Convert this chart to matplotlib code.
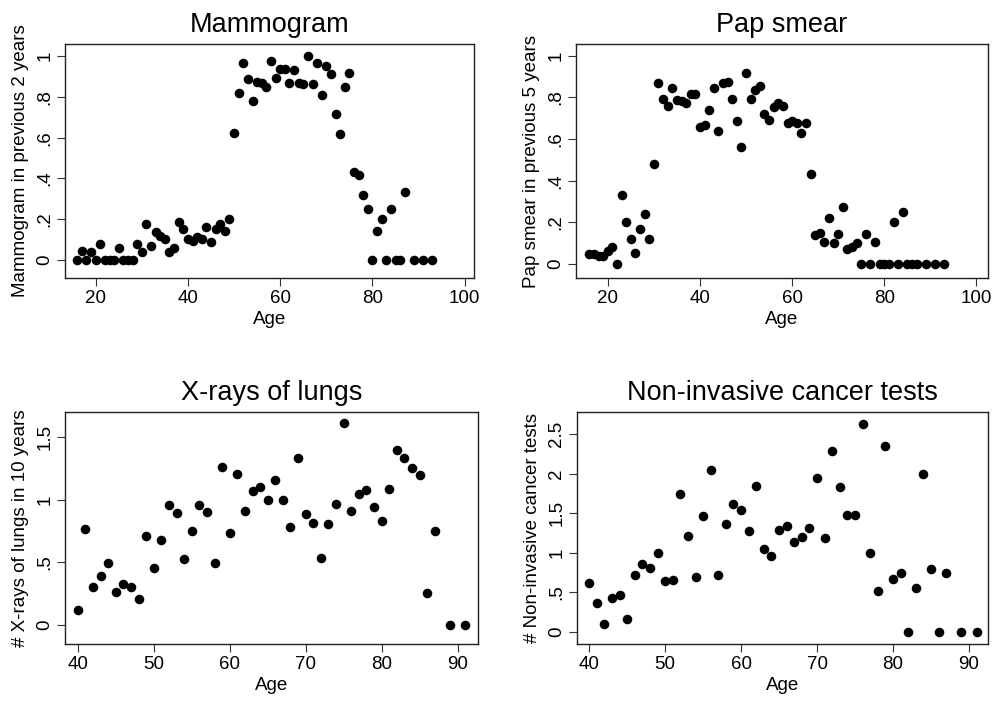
import matplotlib
matplotlib.use("Agg")
import matplotlib.pyplot as plt
from matplotlib.ticker import FixedLocator, FixedFormatter

plt.rcParams['font.family'] = ['Liberation Sans', 'DejaVu Sans']

# ---------------- data ----------------
mammo_age = list(range(16, 88)) + [89, 91, 93]
mammo_val = [0, 0.046, 0, 0.041, 0, 0.078, 0, 0, 0, 0.059,
             0, 0, 0, 0.08, 0.038, 0.175, 0.069, 0.139, 0.119, 0.103,
             0.039, 0.057, 0.186, 0.150, 0.101, 0.092, 0.111, 0.101, 0.160, 0.088,
             0.152, 0.178, 0.144, 0.201, 0.624, 0.820, 0.966, 0.886, 0.781, 0.871,
             0.866, 0.850, 0.977, 0.894, 0.936, 0.936, 0.869, 0.931, 0.869, 0.864,
             1.0, 0.861, 0.964, 0.809, 0.953, 0.910, 0.716, 0.618, 0.850, 0.917,
             0.430, 0.418, 0.319, 0.250, 0, 0.144, 0.199, 0, 0.25, 0,
             0, 0.335, 0, 0, 0]

pap_age = list(range(16, 88)) + [89, 91, 93]
pap_val = [0.046, 0.046, 0.038, 0.038, 0.061, 0.08, 0, 0.333, 0.2, 0.118,
           0.053, 0.166, 0.242, 0.12, 0.482, 0.869, 0.790, 0.76, 0.843, 0.787,
           0.782, 0.774, 0.816, 0.816, 0.656, 0.666, 0.739, 0.843, 0.64, 0.867,
           0.872, 0.792, 0.685, 0.56, 0.915, 0.794, 0.835, 0.856, 0.72, 0.691,
           0.755, 0.774, 0.76, 0.675, 0.688, 0.675, 0.63, 0.675, 0.432, 0.139,
           0.147, 0.107, 0.222, 0.099, 0.144, 0.275, 0.072, 0.083, 0.102, 0,
           0.144, 0, 0.106, 0, 0, 0, 0.2, 0, 0.25, 0,
           0, 0, 0, 0, 0]

xray_age = list(range(40, 88)) + [89, 91]
xray_val = [0.114, 0.763, 0.298, 0.388, 0.497, 0.258, 0.324, 0.298, 0.202, 0.707,
            0.457, 0.676, 0.957, 0.896, 0.524, 0.75, 0.955, 0.902, 0.492, 1.263,
            0.734, 1.207, 0.91, 1.069, 1.101, 1.0, 1.16, 1.0, 0.777, 1.332,
            0.888, 0.811, 0.532, 0.806, 0.968, 1.609, 0.907, 1.043, 1.077, 0.939,
            0.832, 1.082, 1.399, 1.33, 1.25, 1.199, 0.25, 0.747, 0, 0]

noninv_age = list(range(40, 88)) + [89, 91]
noninv_val = [0.618, 0.366, 0.10, 0.433, 0.471, 0.16, 0.723, 0.861, 0.811, 1.0,
              0.643, 0.66, 1.739, 1.218, 0.693, 1.462, 2.042, 0.718, 1.37, 1.613,
              1.538, 1.282, 1.849, 1.055, 0.966, 1.29, 1.34, 1.143, 1.202, 1.319,
              1.941, 1.185, 2.286, 1.836, 1.483, 1.475, 2.63, 1.0, 0.521, 2.349,
              0.664, 0.752, 0, 0.555, 1.996, 0.798, 0, 0.752, 0, 0]

titles = ["Mammogram", "Pap smear", "X-rays of lungs", "Non-invasive cancer tests"]
ylabels = ["Mammogram in previous 2 years", "Pap smear in previous 5 years",
           "# X-rays of lungs in 10 years", "# Non-invasive cancer tests"]
xlabel = "Age"

top_xticks = [20, 40, 60, 80, 100]
bot_xticks = [40, 50, 60, 70, 80, 90]
prop_yticks = [0, 0.2, 0.4, 0.6, 0.8, 1.0]
prop_ylabels = ["0", ".2", ".4", ".6", ".8", "1"]
xray_yticks = [0, 0.5, 1.0, 1.5]
xray_ylabels = ["0", ".5", "1", "1.5"]
ni_yticks = [0, 0.5, 1.0, 1.5, 2.0, 2.5]
ni_ylabels = ["0", ".5", "1", "1.5", "2", "2.5"]

# ---------------- layout ----------------
W, H = 997, 701
fig = plt.figure(figsize=(W / 100, H / 100), dpi=100)
fig.patch.set_facecolor("white")

def px_axes(l, t, r, b):
    return fig.add_axes([l / W, 1 - b / H, (r - l) / W, (b - t) / H])

panels = [
    dict(box=(65, 44, 474, 278), x=mammo_age, y=mammo_val, xlim=(13.35, 102.0), ylim=(-0.088, 1.059),
         xt=top_xticks, yt=prop_yticks, yl=prop_ylabels),
    dict(box=(576, 44, 988, 278), x=pap_age, y=pap_val, xlim=(13.1, 102.5), ylim=(-0.067, 1.056),
         xt=top_xticks, yt=prop_yticks, yl=prop_ylabels),
    dict(box=(65, 412, 478, 644), x=xray_age, y=xray_val, xlim=(38.3, 92.7), ylim=(-0.154, 1.70),
         xt=bot_xticks, yt=xray_yticks, yl=xray_ylabels),
    dict(box=(577, 412, 988, 644), x=noninv_age, y=noninv_val, xlim=(38.4, 92.5), ylim=(-0.151, 2.78),
         xt=bot_xticks, yt=ni_yticks, yl=ni_ylabels),
]

for i, p in enumerate(panels):
    ax = px_axes(*p["box"])
    ax.plot(p["x"], p["y"], linestyle="none", marker="o", markersize=6.9,
            color="black", markeredgewidth=0)
    ax.set_xlim(*p["xlim"])
    ax.set_ylim(*p["ylim"])
    ax.xaxis.set_major_locator(FixedLocator(p["xt"]))
    ax.yaxis.set_major_locator(FixedLocator(p["yt"]))
    ax.yaxis.set_major_formatter(FixedFormatter(p["yl"]))
    ax.tick_params(axis="both", direction="out", length=5.5, width=0.8,
                   labelsize=13.5, color="#333333", pad=3)
    for lab in ax.get_yticklabels():
        lab.set_rotation(90)
        lab.set_va("center")
    for s in ax.spines.values():
        s.set_linewidth(1.0)
        s.set_color("#222222")
    ax.set_title(titles[i], fontsize=19.5, pad=9)
    ax.set_xlabel(xlabel, fontsize=13.5, labelpad=3)
    ax.set_ylabel(ylabels[i], fontsize=13.5, labelpad=5)

fig.savefig("out.png", dpi=100, facecolor="white")
